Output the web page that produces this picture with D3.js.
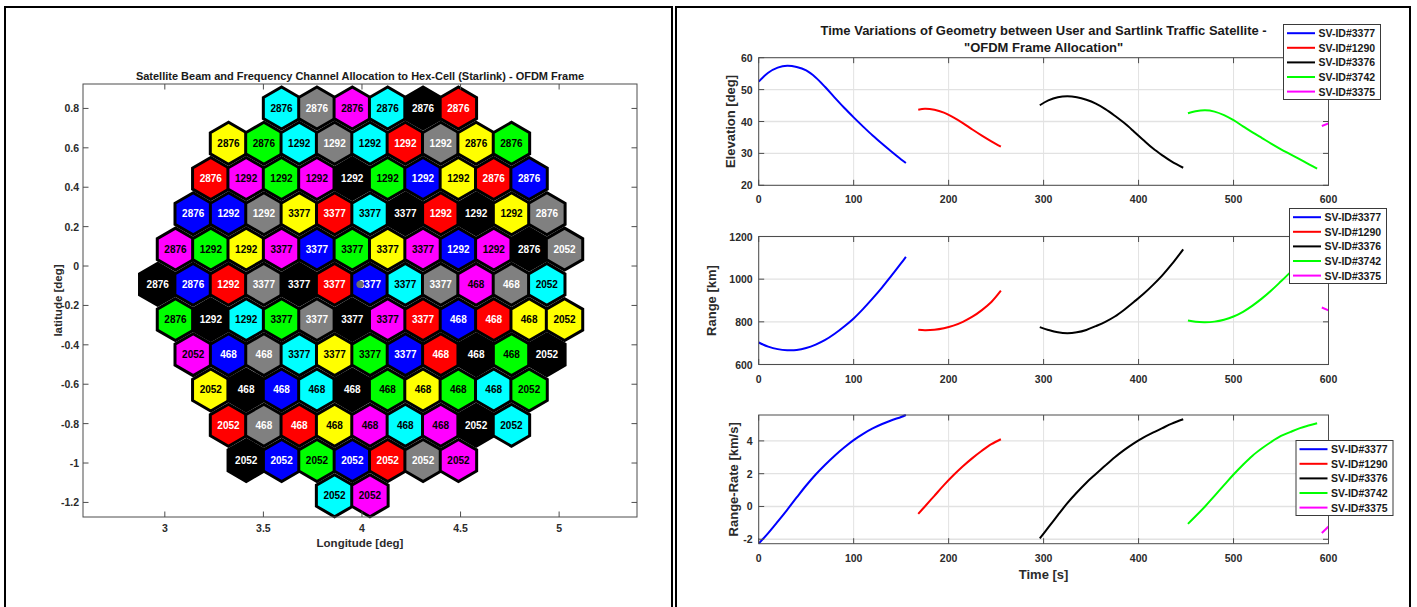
<!DOCTYPE html>
<html>
<head>
<meta charset="utf-8">
<script src="https://cdn.jsdelivr.net/npm/d3@7/dist/d3.min.js"></script>
<style>
  body { margin: 0; background: #fff; }
  svg text { font-family: "Liberation Sans", Arial, Helvetica, sans-serif; font-weight: bold; }
</style>
</head>
<body>
<svg id="fig" width="1417" height="607"></svg>
<script>
// ---------------- Hex-cell beam / channel map ----------------
const lonTicks = [3, 3.5, 4, 4.5, 5];
const latTicks = [0.8, 0.6, 0.4, 0.2, 0, -0.2, -0.4, -0.6, -0.8, -1, -1.2];

// centre latitude of each hex row, and longitude of the first cell in the row
const rowLat = [0.802, 0.623, 0.444, 0.265, 0.086, -0.093, -0.272, -0.450, -0.629, -0.808, -0.987, -1.166];
const rowFirstLon = [3.592, 3.323, 3.233, 3.144, 3.054, 2.964, 3.054, 3.144, 3.233, 3.323, 3.413, 3.861];
const cellStepLon = 0.1794;   // centre-to-centre spacing along a row [deg]
const hexRadius = 0.1066;     // centre-to-vertex [deg]

// frequency channel carried by each cell
const rowChannels = [
  [2876, 2876, 2876, 2876, 2876, 2876],
  [2876, 2876, 1292, 1292, 1292, 1292, 1292, 2876, 2876],
  [2876, 1292, 1292, 1292, 1292, 1292, 1292, 1292, 2876, 2876],
  [2876, 1292, 1292, 3377, 3377, 3377, 3377, 1292, 1292, 1292, 2876],
  [2876, 1292, 1292, 3377, 3377, 3377, 3377, 3377, 1292, 1292, 2876, 2052],
  [2876, 2876, 1292, 3377, 3377, 3377, 3377, 3377, 3377, 468, 468, 2052],
  [2876, 1292, 1292, 3377, 3377, 3377, 3377, 3377, 468, 468, 468, 2052],
  [2052, 468, 468, 3377, 3377, 3377, 3377, 468, 468, 468, 2052],
  [2052, 468, 468, 468, 468, 468, 468, 468, 468, 2052],
  [2052, 468, 468, 468, 468, 468, 468, 2052, 2052],
  [2052, 2052, 2052, 2052, 2052, 2052, 2052],
  [2052, 2052]
];
// beam colour of each cell
const rowBeams = [
  ["c", "gr", "m", "c", "k", "r"],
  ["y", "g", "c", "gr", "c", "r", "gr", "y", "g"],
  ["r", "m", "g", "m", "k", "g", "b", "y", "r", "b"],
  ["b", "b", "gr", "y", "r", "c", "k", "r", "k", "y", "gr"],
  ["m", "g", "y", "m", "b", "g", "y", "m", "b", "m", "k", "gr"],
  ["k", "b", "r", "gr", "k", "r", "b", "c", "gr", "m", "gr", "c"],
  ["g", "k", "c", "g", "gr", "k", "m", "r", "b", "r", "y", "y"],
  ["m", "b", "gr", "c", "y", "g", "b", "r", "k", "g", "k"],
  ["y", "k", "b", "c", "k", "g", "y", "g", "c", "g"],
  ["r", "gr", "r", "y", "m", "c", "m", "k", "c"],
  ["k", "b", "g", "b", "r", "gr", "m"],
  ["c", "m"]
];
const userLon = 3.99, userLat = -0.093;

// ---------------- Geometry time histories ----------------
const timeTicks = [0, 100, 200, 300, 400, 500, 600];
const elevTicks = [20, 30, 40, 50, 60];
const rangeTicks = [600, 800, 1000, 1200];
const rateTicks = [-2, 0, 2, 4];
const svNames = ["SV-ID#3377", "SV-ID#1290", "SV-ID#3376", "SV-ID#3742", "SV-ID#3375"];

const time3377  = [0, 10, 20, 30, 40, 50, 60, 70, 80, 90, 100, 110, 120, 130, 140, 150, 155];
const elev3377  = [52.5, 55.3, 56.9, 57.5, 57.1, 56.0, 53.8, 50.8, 47.5, 44.3, 41.3, 38.4, 35.6, 33.0, 30.5, 28.1, 27.0];
const range3377 = [703, 684, 672, 667, 668, 677, 693, 715, 744, 778, 816, 861, 910, 962, 1018, 1075, 1104];
const rate3377  = [-2.27, -1.62, -0.92, -0.2, 0.55, 1.28, 1.95, 2.55, 3.1, 3.6, 4.05, 4.43, 4.76, 5.03, 5.26, 5.46, 5.58];

const time1290  = [168, 175, 185, 195, 205, 215, 225, 235, 245, 255];
const elev1290  = [43.7, 44.0, 43.7, 42.8, 41.3, 39.5, 37.5, 35.6, 33.8, 32.1];
const range1290 = [763, 761, 763, 770, 782, 800, 824, 855, 893, 946];
const rate1290  = [-0.45, 0.0, 0.65, 1.3, 1.9, 2.45, 2.95, 3.4, 3.8, 4.1];

const time3376  = [296, 305, 315, 325, 335, 345, 355, 365, 375, 385, 395, 405, 415, 425, 435, 447];
const elev3376  = [45.1, 46.6, 47.6, 47.9, 47.6, 46.8, 45.6, 43.9, 41.8, 39.5, 36.9, 34.2, 31.6, 29.4, 27.4, 25.5];
const range3376 = [775, 762, 751, 747, 751, 762, 780, 800, 825, 857, 893, 930, 972, 1018, 1070, 1140];
const rate3376  = [-1.95, -1.28, -0.53, 0.2, 0.85, 1.45, 1.98, 2.5, 3.0, 3.45, 3.85, 4.2, 4.5, 4.78, 5.05, 5.32];

const time3742  = [452, 460, 470, 480, 490, 500, 510, 520, 530, 540, 550, 560, 570, 580, 588];
const elev3742  = [42.6, 43.2, 43.5, 43.1, 42.0, 40.4, 38.5, 36.6, 34.8, 33.0, 31.3, 29.7, 28.1, 26.5, 25.2];
const range3742 = [806, 800, 798, 801, 810, 825, 847, 876, 910, 948, 990, 1033, 1078, 1125, 1165];
const rate3742  = [-1.06, -0.6, 0.0, 0.65, 1.3, 1.95, 2.55, 3.1, 3.55, 3.95, 4.3, 4.55, 4.78, 4.95, 5.08];

const time3375  = [593, 600];
const elev3375  = [38.6, 39.4];
const range3375 = [867, 854];
const rate3375  = [-1.62, -1.22];

// ---------------- styling ----------------
const beamColor = { c: "#00ffff", m: "#ff00ff", y: "#ffff00", r: "#ff0000", g: "#00ff00", b: "#0000ff", k: "#000000", gr: "#808080" };
const darkBeams = new Set(["r", "b", "k", "gr"]);
const svColors = ["#0000ff", "#ff0000", "#000000", "#00ff00", "#ff00ff"];
const axisColor = "#4d4d4d", labelColor = "#2b2b2b", gridColor = "#e2e2e2";

const svg = d3.select("#fig");

// panel frames
svg.append("rect").attr("x", 5).attr("y", 7).attr("width", 667).attr("height", 640)
  .attr("fill", "none").attr("stroke", "#000").attr("stroke-width", 2);
svg.append("rect").attr("x", 676).attr("y", 7).attr("width", 734).attr("height", 640)
  .attr("fill", "none").attr("stroke", "#000").attr("stroke-width", 2);

// ============ left: hex map ============
(function hexMap() {
  const L = { left: 83, right: 637, top: 84, bottom: 517 };
  const x = d3.scaleLinear([2.585, 5.395], [L.left, L.right]);
  const y = d3.scaleLinear([-1.274, 0.924], [L.bottom, L.top]);
  const g = svg.append("g");

  g.append("rect").attr("x", L.left).attr("y", L.top)
    .attr("width", L.right - L.left).attr("height", L.bottom - L.top)
    .attr("fill", "#fff");

  const cells = [];
  rowChannels.forEach((row, r) => {
    row.forEach((ch, k) => {
      cells.push({ lon: rowFirstLon[r] + k * cellStepLon, lat: rowLat[r], ch, beam: rowBeams[r][k] });
    });
  });

  const hexPts = d => d3.range(6).map(i => {
    const a = (90 + 60 * i) * Math.PI / 180;
    return [x(d.lon + hexRadius * Math.cos(a)), y(d.lat + hexRadius * Math.sin(a))];
  });

  g.selectAll("path.hex").data(cells).join("path")
    .attr("class", "hex")
    .attr("d", d => "M" + hexPts(d).join("L") + "Z")
    .attr("fill", d => beamColor[d.beam])
    .attr("stroke", "#000").attr("stroke-width", 3).attr("stroke-linejoin", "miter");

  g.selectAll("text.ch").data(cells).join("text")
    .attr("class", "ch")
    .attr("x", d => x(d.lon)).attr("y", d => y(d.lat))
    .attr("text-anchor", "middle").attr("dominant-baseline", "central")
    .attr("font-size", 10)
    .attr("fill", d => darkBeams.has(d.beam) ? "#ffffff" : "#000000")
    .text(d => d.ch);

  g.append("circle").attr("cx", x(userLon)).attr("cy", y(userLat)).attr("r", 3.6)
    .attr("fill", "#6e6e6e");

  // box and inward ticks
  const tl = 5.5;
  g.append("rect").attr("x", L.left).attr("y", L.top)
    .attr("width", L.right - L.left).attr("height", L.bottom - L.top)
    .attr("fill", "none").attr("stroke", axisColor).attr("stroke-width", 1);
  lonTicks.forEach(v => {
    g.append("line").attr("x1", x(v)).attr("x2", x(v)).attr("y1", L.bottom).attr("y2", L.bottom - tl).attr("stroke", axisColor);
    g.append("line").attr("x1", x(v)).attr("x2", x(v)).attr("y1", L.top).attr("y2", L.top + tl).attr("stroke", axisColor);
    g.append("text").attr("x", x(v)).attr("y", L.bottom + 14.5).attr("text-anchor", "middle")
      .attr("font-size", 10.5).attr("fill", labelColor).text(v);
  });
  latTicks.forEach(v => {
    g.append("line").attr("x1", L.left).attr("x2", L.left + tl).attr("y1", y(v)).attr("y2", y(v)).attr("stroke", axisColor);
    g.append("line").attr("x1", L.right).attr("x2", L.right - tl).attr("y1", y(v)).attr("y2", y(v)).attr("stroke", axisColor);
    g.append("text").attr("x", L.left - 4).attr("y", y(v)).attr("text-anchor", "end")
      .attr("dominant-baseline", "central").attr("font-size", 10.5).attr("fill", labelColor).text(v);
  });

  g.append("text").attr("x", (L.left + L.right) / 2).attr("y", 80).attr("text-anchor", "middle")
    .attr("font-size", 11).attr("fill", "#1a1a1a")
    .text("Satellite Beam and Frequency Channel Allocation to Hex-Cell (Starlink) - OFDM Frame");
  g.append("text").attr("x", (L.left + L.right) / 2).attr("y", 547).attr("text-anchor", "middle")
    .attr("font-size", 11.5).attr("fill", labelColor).text("Longitude [deg]");
  g.append("text").attr("transform", `translate(58,${(L.top + L.bottom) / 2}) rotate(-90)`)
    .attr("text-anchor", "middle").attr("dominant-baseline", "central")
    .attr("font-size", 11.5).attr("fill", labelColor).text("latitude [deg]");
})();

// ============ right: time histories ============
const series = [
  { t: time3377, elev: elev3377, range: range3377, rate: rate3377 },
  { t: time1290, elev: elev1290, range: range1290, rate: rate1290 },
  { t: time3376, elev: elev3376, range: range3376, rate: rate3376 },
  { t: time3742, elev: elev3742, range: range3742, rate: rate3742 },
  { t: time3375, elev: elev3375, range: range3375, rate: rate3375 }
].map((s, i) => ({ ...s, name: svNames[i], color: svColors[i] }));

const R = { left: 758.7, right: 1328.5 };
const xt = d3.scaleLinear([0, 600], [R.left, R.right]);

function timePanel(cfg, idx) {
  const y = d3.scaleLinear(cfg.domain, [cfg.bottom, cfg.top]);
  const g = svg.append("g");
  const tl = 5.5;
  const clipId = "clip" + idx;
  g.append("clipPath").attr("id", clipId).append("rect")
    .attr("x", R.left).attr("y", cfg.top - 1).attr("width", R.right - R.left).attr("height", cfg.bottom - cfg.top + 2);

  // grid
  timeTicks.forEach(v => g.append("line").attr("x1", xt(v)).attr("x2", xt(v))
    .attr("y1", cfg.top).attr("y2", cfg.bottom).attr("stroke", gridColor).attr("stroke-width", 1));
  cfg.ticks.forEach(v => g.append("line").attr("x1", R.left).attr("x2", R.right)
    .attr("y1", y(v)).attr("y2", y(v)).attr("stroke", gridColor).attr("stroke-width", 1.3));

  // curves
  const line = d3.line().curve(d3.curveCatmullRom.alpha(0.5));
  g.append("g").attr("clip-path", `url(#${clipId})`)
    .selectAll("path").data(series).join("path")
    .attr("d", s => line(s.t.map((t, i) => [xt(t), y(s[cfg.key][i])])))
    .attr("fill", "none").attr("stroke", s => s.color).attr("stroke-width", 2)
    .attr("stroke-linecap", "butt");

  // box, ticks, labels
  g.append("rect").attr("x", R.left).attr("y", cfg.top).attr("width", R.right - R.left)
    .attr("height", cfg.bottom - cfg.top).attr("fill", "none").attr("stroke", axisColor).attr("stroke-width", 1);
  timeTicks.forEach(v => {
    g.append("line").attr("x1", xt(v)).attr("x2", xt(v)).attr("y1", cfg.bottom).attr("y2", cfg.bottom - tl).attr("stroke", axisColor);
    g.append("line").attr("x1", xt(v)).attr("x2", xt(v)).attr("y1", cfg.top).attr("y2", cfg.top + tl).attr("stroke", axisColor);
    g.append("text").attr("x", xt(v)).attr("y", cfg.bottom + 18).attr("text-anchor", "middle")
      .attr("font-size", 10.5).attr("fill", labelColor).text(v);
  });
  cfg.ticks.forEach(v => {
    g.append("line").attr("x1", R.left).attr("x2", R.left + tl).attr("y1", y(v)).attr("y2", y(v)).attr("stroke", axisColor);
    g.append("line").attr("x1", R.right).attr("x2", R.right - tl).attr("y1", y(v)).attr("y2", y(v)).attr("stroke", axisColor);
    g.append("text").attr("x", R.left - 6).attr("y", y(v)).attr("text-anchor", "end")
      .attr("dominant-baseline", "central").attr("font-size", 10.5).attr("fill", labelColor).text(v);
  });
  g.append("text").attr("transform", `translate(${cfg.labelX},${(cfg.top + cfg.bottom) / 2}) rotate(-90)`)
    .attr("text-anchor", "middle").attr("dominant-baseline", "central")
    .attr("font-size", 13).attr("fill", labelColor).text(cfg.label);

  // legend
  const lg = g.append("g").attr("transform", `translate(${cfg.legend[0]},${cfg.legend[1]})`);
  const lw = 97, rowH = 14.6, lh = 75;
  lg.append("rect").attr("width", lw).attr("height", lh).attr("fill", "#fff")
    .attr("stroke", "#3a3a3a").attr("stroke-width", 1);
  series.forEach((s, i) => {
    const yy = 8.7 + i * rowH;
    lg.append("line").attr("x1", 3.5).attr("x2", 31.5).attr("y1", yy).attr("y2", yy)
      .attr("stroke", s.color).attr("stroke-width", 2);
    lg.append("text").attr("x", 35).attr("y", yy).attr("dominant-baseline", "central")
      .attr("font-size", 10.5).attr("fill", "#1a1a1a").text(s.name);
  });
}

const rateAll = series.flatMap(s => s.rate);
timePanel({ key: "elev", top: 57.7, bottom: 185.3, domain: [20, 60], ticks: elevTicks,
            label: "Elevation [deg]", labelX: 730, legend: [1283.5, 24.5] }, 0);
timePanel({ key: "range", top: 236.5, bottom: 364.5, domain: [600, 1200], ticks: rangeTicks,
            label: "Range [km]", labelX: 711, legend: [1289.5, 208.5] }, 1);
timePanel({ key: "rate", top: 415, bottom: 543.7, domain: d3.extent(rateAll), ticks: rateTicks,
            label: "Range-Rate [km/s]", labelX: 733, legend: [1296, 440.5] }, 2);

svg.append("text").attr("x", (R.left + R.right) / 2).attr("y", 35.3).attr("text-anchor", "middle")
  .attr("font-size", 13).attr("fill", "#1a1a1a")
  .text("Time Variations of Geometry between User and Sartlink Traffic Satellite -");
svg.append("text").attr("x", (R.left + R.right) / 2).attr("y", 52).attr("text-anchor", "middle")
  .attr("font-size", 13).attr("fill", "#1a1a1a")
  .text("\"OFDM Frame Allocation\"");
svg.append("text").attr("x", (R.left + R.right) / 2).attr("y", 579).attr("text-anchor", "middle")
  .attr("font-size", 13).attr("fill", labelColor).text("Time [s]");
</script>
</body>
</html>
